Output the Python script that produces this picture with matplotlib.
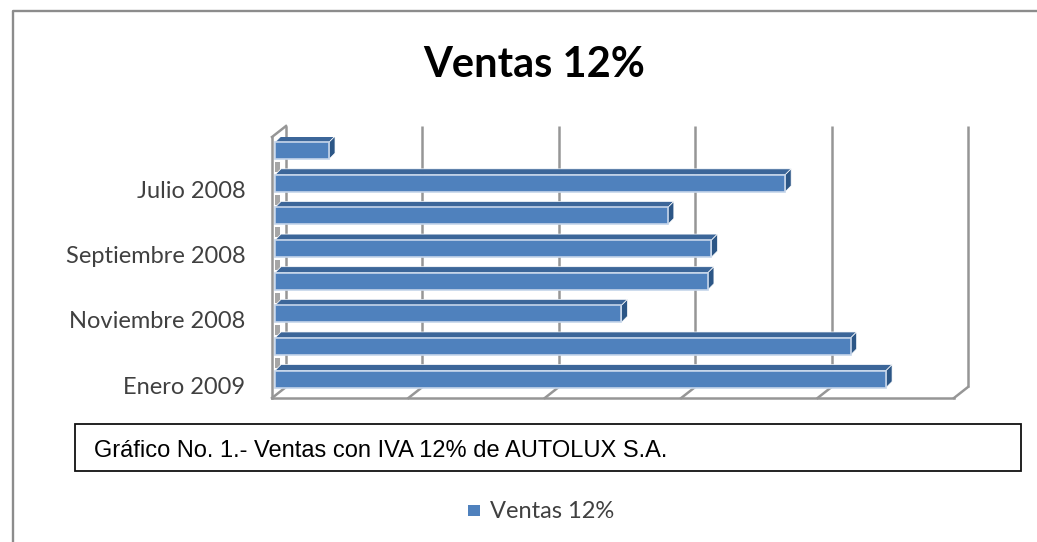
import matplotlib
matplotlib.use("Agg")
import matplotlib.pyplot as plt
from matplotlib.patches import Polygon, Rectangle
from matplotlib.transforms import ScaledTranslation

categories = ["Junio 2008", "Julio 2008", "Agosto 2008", "Septiembre 2008",
              "Octubre 2008", "Noviembre 2008", "Diciembre 2008", "Enero 2009"]
tick_labels = ["", "Julio 2008", "", "Septiembre 2008", "", "Noviembre 2008", "", "Enero 2009"]
ventas = [19.8, 187, 144, 160, 158.7, 127, 211, 224]
grid_values = [0, 50, 100, 150, 200, 250]
series_name = "Ventas 12%"

W, H = 1037, 542
fig = plt.figure(figsize=(W / 100, H / 100), dpi=100)
fig.patch.set_facecolor("white")

bg = fig.add_axes([0, 0, 1, 1])
bg.set_xlim(0, W); bg.set_ylim(H, 0); bg.axis("off")
bg.plot([13, 13, W], [H, 10.5, 10.5], color="#8c8c8c", lw=1.7, solid_capstyle="butt")
bg.add_patch(Rectangle((75, 423.5), 946, 47.5, fc="white", ec="#111111", lw=1.3, zorder=3))
bg.text(94, 451, "Gráfico No. 1.- Ventas con IVA 12% de AUTOLUX S.A.",
        family="Liberation Sans", fontsize=17, color="black", va="center", zorder=4)
bg.text(534.5, 65, series_name, family="Lato", fontweight="bold", fontsize=30,
        color="black", ha="center", va="center")

L, R, T, B = 272, 954, 137, 398
ax = fig.add_axes([L / W, 1 - B / H, (R - L) / W, (B - T) / H])
ax.patch.set_alpha(0)
ax.set_xlim(0, 250)
ax.set_ylim(len(categories) - 0.5 + 0.08, -0.5 + 0.08)
for s in ax.spines.values():
    s.set_visible(False)
ax.set_xticks([])
ax.set_yticks(range(len(categories)))
ax.set_yticklabels(tick_labels, family="Lato", fontsize=17, color="#404040")
ax.tick_params(axis="y", length=0, pad=19)


def shift(dx, dy):
    return ScaledTranslation(dx / 100, -dy / 100, fig.dpi_scale_trans)


for lab in ax.get_yticklabels():
    lab.set_transform(lab.get_transform() + shift(0, 6))

GRAY = "#969696"
DX, DY = 14, -11
LW = 1.8
back = ax.get_xaxis_transform() + shift(DX, DY)
front = ax.get_xaxis_transform()
for v in grid_values:
    ax.plot([v, v], [0, 1], transform=back, color=GRAY, lw=LW, zorder=1, clip_on=False,
            solid_capstyle="butt")
    p0 = front.transform((v, 0)); p1 = back.transform((v, 0))
    ax.plot([p0[0], p1[0]], [p0[1], p1[1]], transform=None, color=GRAY, lw=LW, zorder=1, clip_on=False)
ax.plot([0, 0], [0, 1], transform=front, color=GRAY, lw=LW, zorder=2, clip_on=False)
ax.plot([0, 250], [0, 0], transform=front, color=GRAY, lw=LW, zorder=2, clip_on=False)
p0 = front.transform((0, 1)); p1 = back.transform((0, 1))
ax.plot([p0[0], p1[0]], [p0[1], p1[1]], transform=None, color=GRAY, lw=LW, zorder=2, clip_on=False)

FACE, TOP, SIDE = "#4f81bd", "#3c6699", "#2c5686"
BH = 0.52
base = ax.transData + shift(3, 0)
d, h = 6, 6
for i, v in enumerate(ventas):
    y0, y1 = i - BH / 2, i + BH / 2
    a = base.transform((0, y0)); b = base.transform((v, y0)); c = base.transform((v, y1))
    if i < len(ventas) - 1:
        w0 = base.transform((0, y1))
        ax.add_patch(Rectangle((w0[0], w0[1] - 13), 5, 10, transform=None, fc="#a6a6a6", ec="none",
                               zorder=2))
    ax.add_patch(Polygon([a, b, (b[0] + d, b[1] + h), (a[0] + d, a[1] + h)], closed=True,
                         transform=None, fc=TOP, ec="white", lw=0.5, zorder=3))
    ax.add_patch(Polygon([b, c, (c[0] + d, c[1] + h), (b[0] + d, b[1] + h)], closed=True,
                         transform=None, fc=SIDE, ec="white", lw=0.5, zorder=3))
    ax.barh(i, v, height=BH, color=FACE, edgecolor="#c5d5ea", linewidth=1.2, transform=base, zorder=4)

bg.add_patch(Rectangle((468, 505), 12, 11, fc=FACE, ec="none"))
bg.text(490, 512, series_name, family="Lato", fontsize=17, color="#404040", va="center")

fig.savefig("out.png", dpi=100)
